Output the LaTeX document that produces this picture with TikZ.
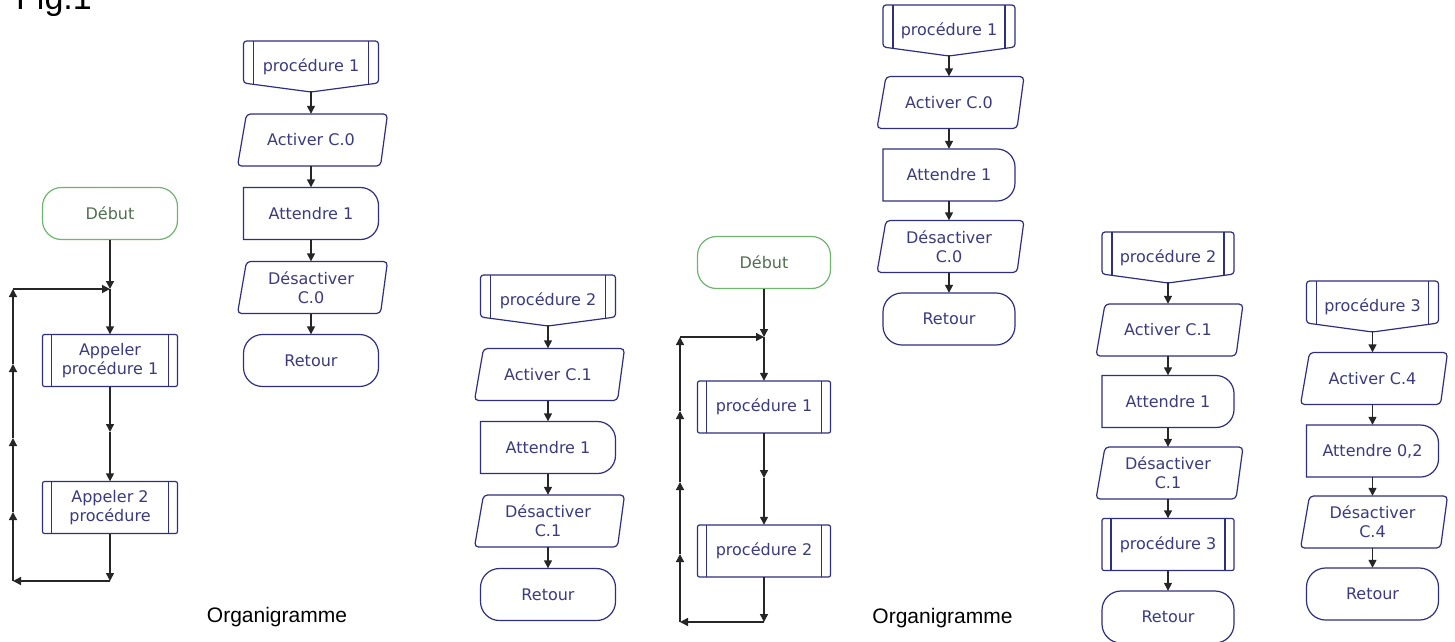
\documentclass[tikz,border=0pt]{standalone}
\usepackage{fontspec}
\usetikzlibrary{arrows.meta}
\setmainfont{Liberation Sans}
\newfontfamily\dvs{DejaVu Sans}
\newcommand{\boxfont}{\dvs\fontsize{16}{19}\selectfont}
\definecolor{boxc}{HTML}{2F2F80}
\definecolor{txtc}{HTML}{3B3B7D}
\definecolor{conc}{HTML}{262626}
\definecolor{greenc}{HTML}{6FB56F}
\definecolor{gtxt}{HTML}{4F6F4F}
\tikzset{
  bx/.style={draw=boxc, line width=1.2pt},
  gbx/.style={draw=greenc, line width=1.2pt},
  txt/.style={font=\boxfont, text=txtc, inner sep=0pt, align=center, minimum height=52pt, minimum width=130pt},
  gtx/.style={txt, text=gtxt},
  con/.style={draw=conc, line width=1.4pt, -{Triangle[length=8pt,width=8pt]}},
  lbl/.style={font=\fontsize{21}{24}\selectfont, text=black, inner sep=0pt, anchor=base},
}
\def\bw{67.5}
% header of a procedure (rectangle with V bottom)
\newcommand{\Hdr}[4]{%
  \begin{scope}[shift={(#2,#3)}]
    \draw[bx, rounded corners=3pt] (-\bw,21) -- (-\bw,-21) -- (\bw,-21) -- (\bw,21) -- (0,30) -- cycle;
    \draw[bx] (-\bw+10,-21) -- (-\bw+10,22.3) (\bw-10,-21) -- (\bw-10,22.3);
    \node[txt, minimum height=50pt] (#1) at (0,5) {#4};
  \end{scope}}
% input/output parallelogram
\newcommand{\IOb}[4]{%
  \begin{scope}[shift={(#2,#3)}]
    \draw[bx, rounded corners=4pt] (-\bw+3,-26) -- (\bw+9,-26) -- (\bw+2,26) -- (-\bw-6,26) -- cycle;
    \node[txt] (#1) at (0,0) {#4};
  \end{scope}}
% delay shape
\newcommand{\Dly}[4]{%
  \begin{scope}[shift={(#2,#3)}]
    \draw[bx] (-\bw,26) -- (-\bw,-26) -- (\bw-18,-26) arc[start angle=-90,end angle=0,radius=18]
      -- (\bw,8) arc[start angle=0,end angle=90,radius=18] -- cycle;
    \node[txt] (#1) at (0,0) {#4};
  \end{scope}}
% terminal
\newcommand{\Term}[4]{%
  \begin{scope}[shift={(#2,#3)}]
    \draw[bx, rounded corners=19pt] (-\bw,-26) rectangle (\bw,26);
    \node[txt] (#1) at (0,0) {#4};
  \end{scope}}
\newcommand{\Start}[4]{%
  \begin{scope}[shift={(#2,#3)}]
    \draw[gbx, rounded corners=19pt] (-\bw,-26) rectangle (\bw,26);
    \node[gtx] (#1) at (0,0) {#4};
  \end{scope}}
% subroutine call
\newcommand{\Sub}[4]{%
  \begin{scope}[shift={(#2,#3)}]
    \draw[bx, rounded corners=2pt] (-\bw,-26) rectangle (\bw,26);
    \draw[bx] (-\bw+9,-26) -- (-\bw+9,26) (\bw-9,-26) -- (\bw-9,26);
    \node[txt] (#1) at (0,0) {#4};
  \end{scope}}
\begin{document}
\begin{tikzpicture}[x=1pt,y=-1pt]
\clip (0,0) rectangle (1455,641);
\fill[white] (0,0) rectangle (1455,641);

\node[font=\fontsize{34}{36}\selectfont, inner sep=0pt, anchor=base west] (fig) at (16,9.5) {Fig.1};

% ---------- left main flow ----------
\def\bw{67.5}
\Start{D1}{110}{213.5}{Début}
\Sub{A1}{110}{360.5}{Appeler\\procédure 1}
\Sub{A2}{110}{507.5}{Appeler 2\\procédure}
\coordinate (L1j) at (110,289);
\coordinate (L1m) at (110,432);
\coordinate (L1b) at (110,581);
\coordinate (L1c) at (13,581);
\coordinate (L1u1) at (13,512);
\coordinate (L1u2) at (13,438);
\coordinate (L1u3) at (13,364);
\coordinate (L1t) at (13,289);
\draw[con] (D1.south) -- (L1j);
\draw[con] (L1j) -- (A1.north);
\draw[con] (A1.south) -- (L1m);
\draw[con] (L1m) -- (A2.north);
\draw[con] (A2.south) -- (L1b);
\draw[con] (L1b) -- (L1c);
\draw[con] (L1c) -- (L1u1);
\draw[con] (L1u1) -- (L1u2);
\draw[con] (L1u2) -- (L1u3);
\draw[con] (L1u3) -- (L1t);
\draw[con] (L1t) -- (L1j);

% ---------- procedure 1 (left) ----------
\Hdr{P1h}{311}{62}{procédure 1}
\IOb{P1a}{311}{140}{Activer C.0}
\Dly{P1w}{311}{213.5}{Attendre 1}
\IOb{P1d}{311}{287.5}{Désactiver\\C.0}
\Term{P1r}{311}{360.5}{Retour}
\draw[con] (P1h.south) -- (P1a.north);
\draw[con] (P1a.south) -- (P1w.north);
\draw[con] (P1w.south) -- (P1d.north);
\draw[con] (P1d.south) -- (P1r.north);

\node[lbl] (org1) at (277,622) {Organigramme};

% ---------- procedure 2 (left) ----------
\Hdr{P2h}{548}{296}{procédure 2}
\IOb{P2a}{548}{374.5}{Activer C.1}
\Dly{P2w}{548}{447.5}{Attendre 1}
\IOb{P2d}{548}{521}{Désactiver\\C.1}
\Term{P2r}{548}{594.5}{Retour}
\draw[con] (P2h.south) -- (P2a.north);
\draw[con] (P2a.south) -- (P2w.north);
\draw[con] (P2w.south) -- (P2d.north);
\draw[con] (P2d.south) -- (P2r.north);

% ---------- middle main flow ----------
\def\bw{66.5}
\Start{D2}{764}{262.5}{Début}
\Sub{B1}{764}{407}{procédure 1}
\Sub{B2}{764}{551}{procédure 2}
\coordinate (M1j) at (764,337);
\coordinate (M1m) at (764,478);
\coordinate (M1b) at (764,622);
\coordinate (M1c) at (680,622);
\coordinate (M1u1) at (680,554);
\coordinate (M1u2) at (680,482);
\coordinate (M1u3) at (680,411);
\coordinate (M1t) at (680,337);
\draw[con] (D2.south) -- (M1j);
\draw[con] (M1j) -- (B1.north);
\draw[con] (B1.south) -- (M1m);
\draw[con] (M1m) -- (B2.north);
\draw[con] (B2.south) -- (M1b);
\draw[con] (M1b) -- (M1c);
\draw[con] (M1c) -- (M1u1);
\draw[con] (M1u1) -- (M1u2);
\draw[con] (M1u2) -- (M1u3);
\draw[con] (M1u3) -- (M1t);
\draw[con] (M1t) -- (M1j);

\node[lbl] (org2) at (942.5,623) {Organigramme};

% ---------- procedure 1 (right) ----------
\def\bw{66}
\Hdr{Q1h}{949}{26}{procédure 1}
\IOb{Q1a}{949}{102.5}{Activer C.0}
\Dly{Q1w}{949}{175}{Attendre 1}
\IOb{Q1d}{949}{246.5}{Désactiver\\C.0}
\Term{Q1r}{949}{319}{Retour}
\draw[con] (Q1h.south) -- (Q1a.north);
\draw[con] (Q1a.south) -- (Q1w.north);
\draw[con] (Q1w.south) -- (Q1d.north);
\draw[con] (Q1d.south) -- (Q1r.north);

% ---------- procedure 2 (right) ----------
\Hdr{Q2h}{1168}{253}{procédure 2}
\IOb{Q2a}{1168}{330}{Activer C.1}
\Dly{Q2w}{1168}{401.5}{Attendre 1}
\IOb{Q2d}{1168}{473}{Désactiver\\C.1}
\Sub{Q2s}{1168}{544.5}{procédure 3}
\Term{Q2r}{1168}{617}{Retour}
\draw[con] (Q2h.south) -- (Q2a.north);
\draw[con] (Q2a.south) -- (Q2w.north);
\draw[con] (Q2w.south) -- (Q2d.north);
\draw[con] (Q2d.south) -- (Q2s.north);
\draw[con] (Q2s.south) -- (Q2r.north);

% ---------- procedure 3 (right) ----------
\Hdr{Q3h}{1372.5}{302}{procédure 3}
\IOb{Q3a}{1372.5}{378.5}{Activer C.4}
\Dly{Q3w}{1372.5}{451}{Attendre 0,2}
\IOb{Q3d}{1372.5}{522}{Désactiver\\C.4}
\Term{Q3r}{1372.5}{594}{Retour}
\draw[con] (Q3h.south) -- (Q3a.north);
\draw[con] (Q3a.south) -- (Q3w.north);
\draw[con] (Q3w.south) -- (Q3d.north);
\draw[con] (Q3d.south) -- (Q3r.north);
\end{tikzpicture}
\end{document}
